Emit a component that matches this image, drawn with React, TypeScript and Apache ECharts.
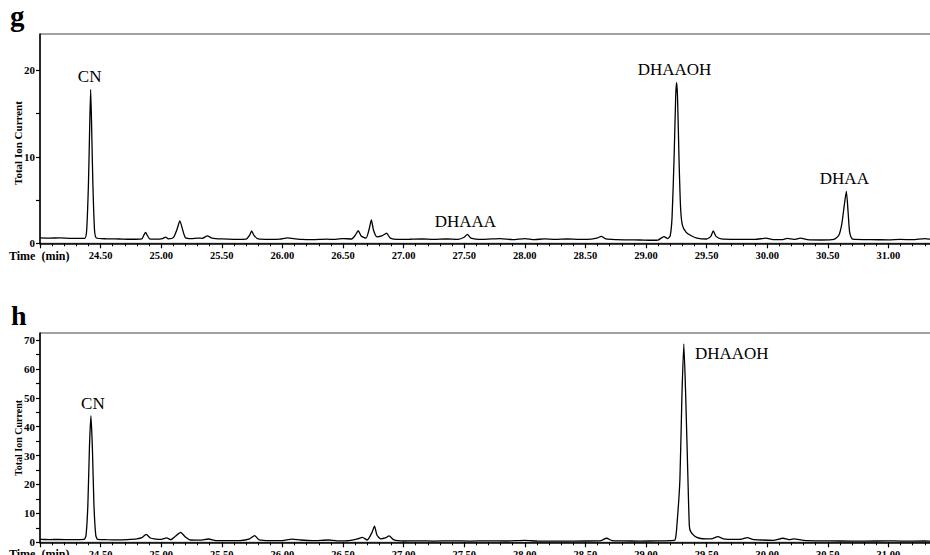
import React, { useEffect, useRef } from 'react';
import * as echarts from 'echarts';

const FONT = "'Liberation Serif', 'Times New Roman', Times, serif";

// Panel g: total ion chromatogram [time (min), total ion current]
const gTrace: [number, number][] = [
  [24.0, 0.62], [24.08, 0.6], [24.16, 0.62], [24.24, 0.58], [24.32, 0.56], [24.37, 0.58],
  [24.385, 1.5], [24.4, 7], [24.41, 13.5], [24.418, 17.8], [24.426, 13.5], [24.436, 7], [24.45, 1.5], [24.465, 0.62],
  [24.55, 0.52], [24.65, 0.5], [24.75, 0.47], [24.84, 0.52], [24.857, 0.95], [24.871, 1.25], [24.886, 0.9],
  [24.905, 0.52], [24.96, 0.48], [25.01, 0.55], [25.036, 0.72], [25.06, 0.52], [25.1, 0.65], [25.13, 1.6],
  [25.154, 2.6], [25.178, 1.5], [25.2, 0.65], [25.25, 0.55], [25.3, 0.6], [25.34, 0.58], [25.38, 0.85],
  [25.42, 0.6], [25.5, 0.5], [25.6, 0.45], [25.7, 0.48], [25.73, 0.95], [25.746, 1.43], [25.764, 0.95],
  [25.8, 0.5], [25.9, 0.45], [25.98, 0.48], [26.04, 0.62], [26.09, 0.55], [26.16, 0.45], [26.25, 0.42],
  [26.36, 0.48], [26.44, 0.45], [26.5, 0.55], [26.57, 0.5], [26.6, 0.9], [26.626, 1.46], [26.65, 0.85],
  [26.69, 0.6], [26.715, 1.6], [26.734, 2.7], [26.752, 1.5], [26.78, 0.75], [26.82, 0.85], [26.86, 1.16],
  [26.89, 0.6], [26.95, 0.45], [27.05, 0.47], [27.15, 0.5], [27.25, 0.45], [27.35, 0.5], [27.45, 0.46],
  [27.5, 0.7], [27.526, 1.04], [27.555, 0.6], [27.65, 0.45], [27.8, 0.55], [27.9, 0.42], [28.0, 0.55],
  [28.08, 0.42], [28.16, 0.52], [28.25, 0.45], [28.35, 0.5], [28.45, 0.45], [28.55, 0.48], [28.6, 0.62],
  [28.63, 0.8], [28.67, 0.5], [28.75, 0.42], [28.85, 0.4], [28.95, 0.38], [29.05, 0.35], [29.1, 0.38],
  [29.148, 0.78], [29.18, 0.55], [29.2, 0.9], [29.215, 3], [29.232, 10], [29.245, 17], [29.252, 18.6],
  [29.26, 17], [29.272, 10], [29.285, 4.2], [29.3, 2.1], [29.33, 1.3], [29.37, 0.9], [29.42, 0.6],
  [29.5, 0.5], [29.535, 0.8], [29.555, 1.43], [29.578, 0.8], [29.62, 0.5], [29.75, 0.45], [29.9, 0.45],
  [29.99, 0.6], [30.05, 0.42], [30.12, 0.42], [30.165, 0.56], [30.22, 0.45], [30.276, 0.6], [30.33, 0.42],
  [30.45, 0.38], [30.55, 0.45], [30.59, 0.9], [30.615, 2.2], [30.635, 4.3], [30.653, 6.0], [30.668, 3.5],
  [30.68, 1.3], [30.7, 0.5], [30.72, 0.45], [30.85, 0.42], [31.0, 0.4], [31.1, 0.45], [31.2, 0.42],
  [31.3, 0.55], [31.36, 0.45],
];

// Panel h
const hTrace: [number, number][] = [
  [24.0, 1.0], [24.08, 0.95], [24.16, 1.0], [24.24, 0.9], [24.32, 0.95], [24.365, 1.0], [24.38, 2.5],
  [24.395, 13], [24.408, 33], [24.42, 43.8], [24.432, 33], [24.445, 13], [24.46, 2.5], [24.475, 1.0],
  [24.55, 0.9], [24.65, 0.85], [24.72, 0.95], [24.8, 1.2], [24.84, 1.6], [24.876, 2.75], [24.91, 1.5],
  [24.96, 1.1], [25.0, 1.0], [25.045, 1.5], [25.08, 0.9], [25.12, 2.2], [25.16, 3.45], [25.2, 1.8],
  [25.24, 0.8], [25.32, 0.75], [25.39, 1.15], [25.45, 0.6], [25.55, 0.55], [25.65, 0.6], [25.73, 1.2],
  [25.77, 2.3], [25.81, 0.8], [25.9, 0.55], [26.0, 0.6], [26.08, 1.1], [26.15, 0.8], [26.25, 0.6],
  [26.38, 0.8], [26.45, 0.5], [26.55, 0.6], [26.62, 1.2], [26.66, 1.7], [26.7, 0.8], [26.74, 3.5],
  [26.76, 5.6], [26.78, 2.5], [26.81, 1.2], [26.85, 1.5], [26.88, 2.2], [26.92, 0.8], [27.0, 0.45],
  [27.12, 0.5], [27.25, 0.42], [27.4, 0.5], [27.55, 0.42], [27.7, 0.5], [27.85, 0.45], [28.0, 0.65],
  [28.1, 0.45], [28.3, 0.42], [28.5, 0.45], [28.62, 0.5], [28.675, 1.4], [28.72, 0.6], [28.8, 0.5],
  [28.95, 0.42], [29.1, 0.48], [29.2, 0.6], [29.24, 0.8], [29.258, 7.5], [29.28, 22], [29.296, 50],
  [29.312, 68.6], [29.328, 50], [29.346, 22], [29.358, 5.5], [29.37, 3.6], [29.4, 2.2], [29.44, 1.4],
  [29.5, 1.2], [29.55, 1.3], [29.593, 1.95], [29.64, 1.2], [29.72, 1.0], [29.79, 1.1], [29.835, 1.6],
  [29.88, 1.0], [29.95, 0.8], [30.05, 0.7], [30.13, 1.4], [30.18, 0.9], [30.22, 1.2], [30.3, 0.7],
  [30.45, 0.5], [30.6, 0.45], [30.8, 0.4], [31.0, 0.5], [31.1, 0.42], [31.3, 0.45], [31.36, 0.42],
];

const gPeakNames = ['CN', 'DHAAA', 'DHAAOH', 'DHAA'];
const gPeakTimes = [24.418, 27.526, 29.252, 30.653];
const gPeakValues = [17.8, 1.04, 18.6, 6.0];

const hPeakNames = ['CN', 'DHAAOH'];
const hPeakTimes = [24.42, 29.312];
const hPeakValues = [43.8, 68.6];

const gYLabels = [0, 10, 20];
const gYTicks = [0, 5, 10, 15, 20];
const hYLabels = [0, 10, 20, 30, 40, 50, 60, 70];
const hYTicks = [0, 5, 10, 15, 20, 25, 30, 35, 40, 45, 50, 55, 60, 65, 70];

const X_MIN = 24.0;
const X_MAX = 31.5;
const X_STEP = 0.5;

function xAxisCfg(gridIndex: number) {
  return {
    type: 'value',
    gridIndex,
    min: X_MIN,
    max: X_MAX,
    interval: X_STEP,
    axisLine: { show: true, onZero: false, lineStyle: { color: '#000', width: 1.5 } },
    axisTick: { show: true, length: 5, lineStyle: { color: '#000', width: 1.2 } },
    minorTick: { show: true, splitNumber: 5, length: 3, lineStyle: { color: '#000', width: 1 } },
    axisLabel: {
      show: true,
      showMinLabel: false,
      showMaxLabel: false,
      margin: 7,
      formatter: (v: number) => v.toFixed(2),
      color: '#000',
      fontFamily: FONT,
      fontWeight: 'bold',
      fontSize: 10.5,
    },
    splitLine: { show: false },
    minorSplitLine: { show: false },
  };
}

function yAxisCfg(gridIndex: number, max: number, labels: number[], ticks: number[], fontSize: number) {
  return {
    type: 'value',
    gridIndex,
    min: 0,
    max,
    axisLine: { show: true, onZero: false, lineStyle: { color: '#000', width: 1.5 } },
    axisTick: { show: true, length: 4, customValues: ticks, lineStyle: { color: '#000', width: 1.2 } },
    axisLabel: {
      show: true,
      customValues: labels,
      margin: 5,
      color: '#000',
      fontFamily: FONT,
      fontWeight: 'bold',
      fontSize,
    },
    splitLine: { show: false },
  };
}

function peakMarks(names: string[], times: number[], values: number[], offsets: number[][]) {
  return {
    symbol: 'circle',
    symbolSize: 0,
    silent: true,
    label: {
      show: true,
      position: 'top',
      distance: 4,
      formatter: '{b}',
      color: '#000',
      fontFamily: FONT,
      fontSize: 17,
    },
    data: names.map((n, i) => ({
      name: n,
      coord: [times[i], values[i]],
      label: { offset: offsets[i] },
    })),
  };
}

export default function App() {
  const ref = useRef<HTMLDivElement>(null);
  useEffect(() => {
    document.body.style.margin = '0';
    const chart = echarts.init(ref.current as HTMLDivElement, null, { renderer: 'svg' });
    const gridBase = {
      left: 40,
      right: -19,
      height: 209.3,
      containLabel: false,
      outerBoundsMode: 'none',
      show: true,
      borderColor: '#444',
      borderWidth: 1,
      backgroundColor: 'transparent',
    };
    const option = {
      animation: false,
      backgroundColor: '#fff',
      grid: [
        { ...gridBase, top: 34 },
        { ...gridBase, top: 333 },
      ],
      xAxis: [xAxisCfg(0), xAxisCfg(1)],
      yAxis: [
        yAxisCfg(0, 24.2, gYLabels, gYTicks, 11),
        yAxisCfg(1, 72.4, hYLabels, hYTicks, 11),
      ],
      series: [
        {
          type: 'line',
          xAxisIndex: 0,
          yAxisIndex: 0,
          data: gTrace,
          symbol: 'none',
          showSymbol: false,
          smooth: 0.2,
          lineStyle: { color: '#000', width: 1.3 },
          markPoint: peakMarks(gPeakNames, gPeakTimes, gPeakValues, [[-1, 0], [-2, 0], [-2, 0], [-2, 0]]),
        },
        {
          type: 'line',
          xAxisIndex: 1,
          yAxisIndex: 1,
          data: hTrace,
          symbol: 'none',
          showSymbol: false,
          smooth: 0.2,
          lineStyle: { color: '#000', width: 1.3 },
          markPoint: peakMarks(hPeakNames, hPeakTimes, hPeakValues, [[2, 0], [48, 22]]),
        },
      ],
      graphic: [
        { type: 'text', x: 10, y: 16, style: { text: 'g', font: `bold 29px ${FONT}`, fill: '#000', verticalAlign: 'middle' } },
        { type: 'text', x: 11, y: 315, style: { text: 'h', font: `bold 28px ${FONT}`, fill: '#000', verticalAlign: 'middle' } },
        { type: 'text', x: 9, y: 255.5, style: { text: 'Time  (min)', font: `bold 12px ${FONT}`, fill: '#000', verticalAlign: 'middle' } },
        { type: 'text', x: 9, y: 553.5, style: { text: 'Time  (min)', font: `bold 12px ${FONT}`, fill: '#000', verticalAlign: 'middle' } },
        { type: 'text', x: 18, y: 143, rotation: Math.PI / 2, style: { text: 'Total Ion Current', font: `bold 11px ${FONT}`, fill: '#000', align: 'center', verticalAlign: 'middle' } },
        { type: 'text', x: 18, y: 438, rotation: Math.PI / 2, style: { text: 'Total Ion Current', font: `bold 10px ${FONT}`, fill: '#000', align: 'center', verticalAlign: 'middle' } },
      ],
    };
    chart.setOption(option as any);
    return () => chart.dispose();
  }, []);
  return <div ref={ref} style={{ width: 930, height: 555, overflow: 'hidden' }} />;
}
